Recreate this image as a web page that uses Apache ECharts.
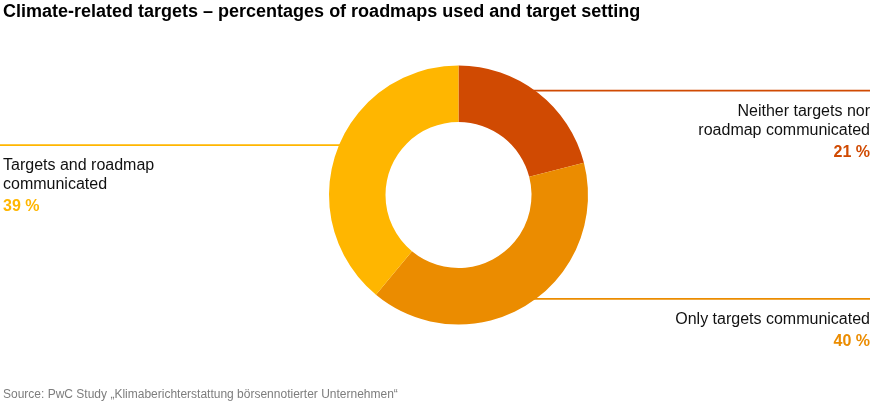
<!DOCTYPE html>
<html>
<head>
<meta charset="utf-8">
<script src="https://cdn.jsdelivr.net/npm/echarts@6/dist/echarts.min.js"></script>
<style>html,body{margin:0;padding:0;background:#fff;}#c{width:885px;height:406px;}</style>
</head>
<body>
<div id="c"></div>
<script>
const categories = ['Neither targets nor\nroadmap communicated', 'Only targets communicated', 'Targets and roadmap\ncommunicated'];
const values = [21, 40, 39];
const colors = ['#D04A02', '#EB8C00', '#FFB600'];
const titleText = 'Climate-related targets – percentages of roadmaps used and target setting';
const sourceText = 'Source: PwC Study „Klimaberichterstattung börsennotierter Unternehmen“';

// layout-only tweaks (vertical nudge of each leader line, px)
const leaderNudge = [-2, -5.5, -6];

const RIGHT = 870;
const FONT = '"Liberation Sans", Arial, Helvetica, sans-serif';
const chart = echarts.init(document.getElementById('c'), null, {renderer: 'canvas'});

const data = categories.map((name, i) => ({
  name, value: values[i],
  itemStyle: {color: colors[i]},
  label: {
    rich: {
      n: {fontSize: 16, lineHeight: 19, color: '#111', fontFamily: FONT},
      p: {fontSize: 16, lineHeight: 23, color: colors[i], fontWeight: 'bold', fontFamily: FONT, padding: [2, 0, 0, 0]}
    }
  },
  labelLine: {lineStyle: {color: colors[i], width: 1.6}}
}));

chart.setOption({
  animation: false,
  title: [
    {text: titleText, left: 3, top: 3, padding: 0, textStyle: {fontSize: 18, fontWeight: 'bold', color: '#000', fontFamily: FONT}},
    {text: sourceText, left: 3, top: 389, padding: 0, textStyle: {fontSize: 12, fontWeight: 'normal', color: '#7d7d7d', fontFamily: FONT}}
  ],
  series: [{
    type: 'pie',
    center: [458.5, 195],
    radius: [73, 129.5],
    startAngle: 90,
    clockwise: true,
    data: data,
    label: {
      show: true,
      position: 'outside',
      formatter: p => '{n|' + p.name + '}\n{p|' + p.value + ' %}'
    },
    labelLine: {show: true, length: 10, length2: 10, smooth: false},
    emphasis: {disabled: true},
    labelLayout: function (params) {
      const pts = params.labelLinePoints;
      const p0 = pts && pts[0] ? pts[0] : [params.rect.x, params.rect.y];
      const ly = p0[1] + (leaderNudge[params.dataIndex] || 0);
      const isLeft = p0[0] < 458.5;
      const endX = isLeft ? 0 : RIGHT;
      const startX = isLeft ? p0[0] + 6 : p0[0] - 6;
      return {
        x: isLeft ? 3 : RIGHT,
        y: ly + 11,
        align: isLeft ? 'left' : 'right',
        verticalAlign: 'top',
        labelLinePoints: [[startX, ly], [(startX + endX) / 2, ly], [endX, ly]]
      };
    }
  }]
});
</script>
</body>
</html>
